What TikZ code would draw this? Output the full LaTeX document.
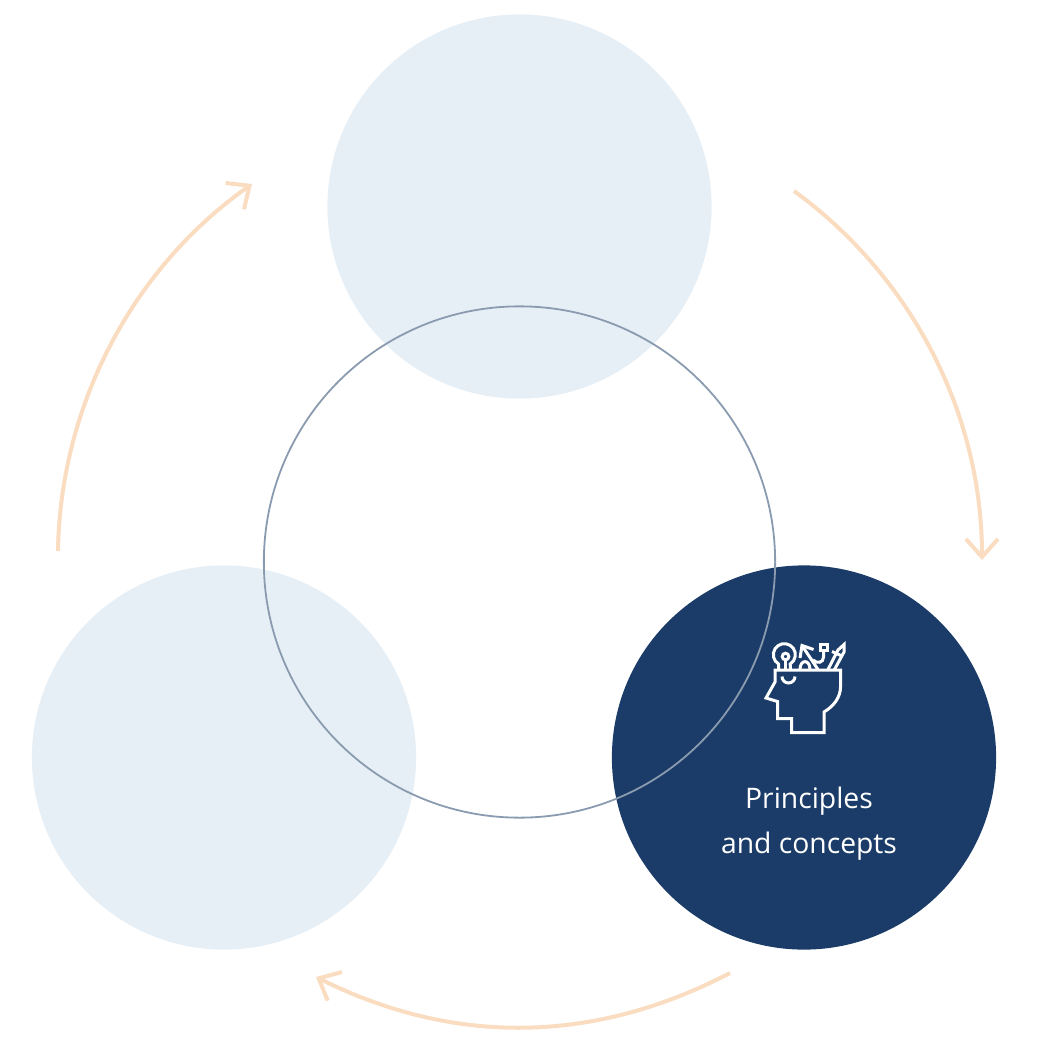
\documentclass[tikz,border=0pt]{standalone}
\usepackage{fontspec}
\setmainfont{Open Sans}
\usetikzlibrary{arrows.meta}
\definecolor{paleblue}{HTML}{E6EFF6}
\definecolor{darkblue}{HTML}{1B3C68}
\definecolor{ringgray}{HTML}{8A9BB0}
\definecolor{flowpeach}{HTML}{FADCC0}
\tikzset{
    topic/.style={circle, minimum size=3.84cm, inner sep=0pt, fill=paleblue},
    flowarrow/.style={draw=flowpeach, line width=0.4mm, bend left=27, looseness=0.9,
        -{Straight Barb[length=1.8mm, width=3.2mm]}},
    iconline/.style={draw=white, line width=0.3mm, line join=miter}
}
\begin{document}
\begin{tikzpicture}[x=0.01cm, y=-0.01cm]
\useasboundingbox (0,0) rectangle (1042,1042);

\node[topic] (top) at (519.5,206.5) {};
\node[topic] (left) at (224,757.5) {};
\node[topic, fill=darkblue] (right) at (804,757.5) {};
\node[circle, minimum size=5.11cm, inner sep=0pt, draw=ringgray, line width=0.18mm] (ring) at (519.5,562) {};

\coordinate (a1) at (794,191);
\coordinate (a2) at (982,560);
\coordinate (b1) at (730,973);
\coordinate (b2) at (316,977);
\coordinate (c1) at (58,551);
\coordinate (c2) at (252,184);
\draw[flowarrow] (a1) to (a2);
\draw[flowarrow, looseness=0.95] (b1) to (b2);
\draw[flowarrow] (c1) to (c2);

% head
\draw[iconline] (775,670) -- (840.5,670) -- (840.5,687) .. controls (840.5,697) and (834,706) .. (824,712)
    -- (824,732.5) -- (791.5,732.5) -- (791.5,718.5) -- (777.5,718.5) -- (777.5,701.5) -- (766,698) -- (775,682) -- cycle;
\draw[iconline] (782,676.5) arc[start angle=180, end angle=0, radius=6.5];
% bulb
\draw[iconline] (778.5,669.5) -- (778.5,664) arc[start angle=122, end angle=418, radius=11] -- (790.5,669.5);
\draw[iconline] (785.5,656.5) circle[radius=3.3];
\draw[iconline] (785.5,660) -- (785.5,669.5);
% arrow and wire
\draw[iconline] (818,669.5) -- (802,645.5);
\draw[iconline] (813.5,649.5) -- (802,645.5) -- (800,658);
\draw[iconline] (800,669.5) .. controls (800,659) and (810,659) .. (810,669.5);
\draw[iconline] (820,644) rectangle (827,650.5);
\draw[iconline] (823.5,650.5) -- (823.5,657) .. controls (823.5,663) and (817,664) .. (813,660);
% pencil
\draw[iconline] (828,669.5) -- (838,650) -- (844,644.5) -- (844,652) -- (834.5,669.5);
\draw[iconline] (832,651.5) -- (842,656);

\node[text=white, font=\fontsize{8.05}{12.8}\selectfont, align=center] (label) at (809,824) {Principles\\and concepts};
\end{tikzpicture}
\end{document}
